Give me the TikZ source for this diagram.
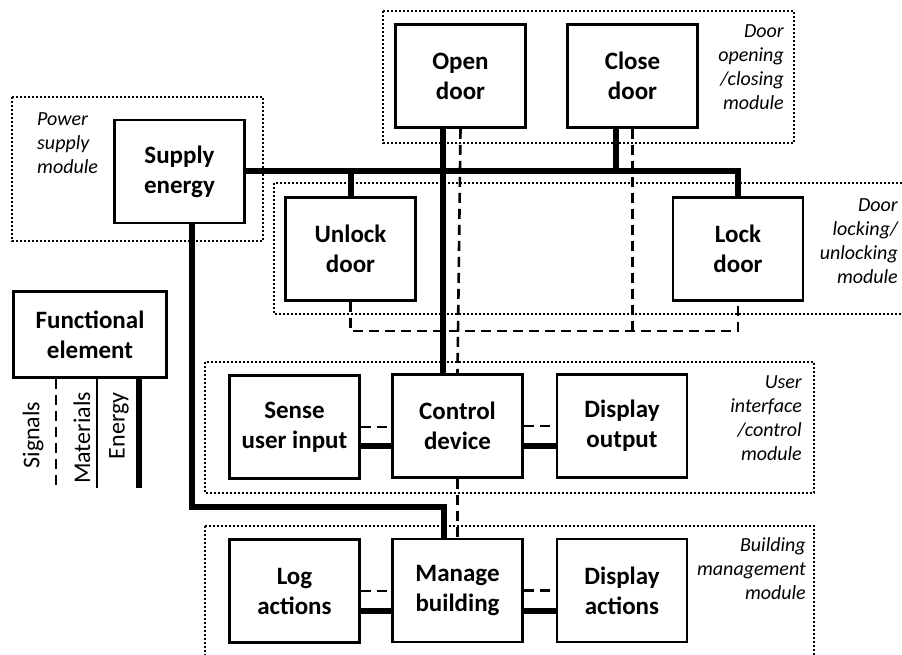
\documentclass[tikz,border=0pt]{standalone}
\usepackage{fontspec}
\setmainfont{Carlito}
\begin{document}
\begin{tikzpicture}[x=1pt, y=-1pt,
  block/.style={draw, line width=2.8pt, minimum width=130pt, minimum height=103pt,
    inner sep=0pt, align=center, font=\bfseries\fontsize{25}{30}\selectfont},
  energy/.style={line width=6pt},
  signal/.style={line width=2.6pt, dash pattern=on 10pt off 6pt},
  material/.style={line width=2.8pt},
  module/.style={line width=2.2pt, dash pattern=on 2pt off 2pt},
  modlabel/.style={inner sep=0pt, font=\itshape\fontsize{20}{24}\selectfont},
  leglabel/.style={inner sep=0pt, rotate=90, font=\fontsize{24}{28}\selectfont}]
  \useasboundingbox (0,0) rectangle (902,655);
  % module frames
  \draw[module] (383,11) rectangle (794,143);
  \draw[module] (12,97) rectangle (263,241);
  \draw[module] (274,183) rectangle (915,314);
  \draw[module] (205,362) rectangle (814,493);
  \draw[module] (205,526) rectangle (814,670);
  \node[modlabel, anchor=north west, align=left] (powermod) at (37,112) {Power\\supply\\module};
  \node[modlabel, anchor=north east, align=right] (openmod) at (784,24) {Door\\opening\\/closing\\module};
  \node[modlabel, anchor=north east, align=right] (lockmod) at (898,198) {Door\\locking/\\unlocking\\module};
  \node[modlabel, anchor=north east, align=right] (uimod) at (802,375) {User\\interface\\/control\\module};
  \node[modlabel, anchor=north east, align=right] (bldmod) at (806,537) {Building\\management\\module};
  % functions
  \node[block] (open) at (460.5,76) {Open\\door};
  \node[block] (close) at (632.5,76) {Close\\door};
  \node[block] (supply) at (179.5,171.5) {Supply\\energy};
  \node[block] (unlock) at (350.5,249) {Unlock\\door};
  \node[block] (lock) at (738,249) {Lock\\door};
  \node[block] (sense) at (294.5,427) {Sense\\user input};
  \node[block] (control) at (457.5,426) {Control\\device};
  \node[block] (dispout) at (622,426) {Display\\output};
  \node[block] (log) at (294.5,591) {Log\\actions};
  \node[block] (manage) at (457.5,590.5) {Manage\\building};
  \node[block] (dispact) at (622,590.5) {Display\\actions};
  % energy
  \draw[energy] (supply.east) -- (supply.east -| lock.north) -- (lock.north);
  \draw[energy] (unlock.north) -- (unlock.north |- supply.east);
  \draw[energy] ([xshift=-17pt]close.south) -- ([xshift=-17pt]close.south |- supply.east);
  \draw[energy] ([xshift=-18pt]open.south) -- ([xshift=-18pt]open.south |- control.north);
  \draw[energy] ([xshift=12pt]supply.south) -- ++(0,283) -| ([xshift=-14pt]manage.north);
  \draw[energy] ([yshift=-19pt]sense.east) -- ([yshift=-19pt]sense.east -| control.west);
  \draw[energy] ([yshift=-20pt]control.east) -- ([yshift=-20pt]control.east -| dispout.west);
  \draw[energy] ([yshift=-20pt]log.east) -- ([yshift=-20pt]log.east -| manage.west);
  \draw[energy] ([yshift=-20pt]manage.east) -- ([yshift=-20pt]manage.east -| dispact.west);
  % signals
  \coordinate (sigbus) at (0,331);
  \draw[signal] (unlock.south) -- (unlock.south |- sigbus) -| (lock.south);
  \draw[signal] (close.south) -- (close.south |- sigbus);
  \draw[signal] (open.south) -- (control.north);
  \draw[signal] (control.south) -- (manage.north);
  \draw[signal] (sense.east) -- (sense.east -| control.west);
  \draw[signal] (control.east) -- (control.east -| dispout.west);
  \draw[signal] (log.east) -- (log.east -| manage.west);
  \draw[signal] (manage.east) -- (manage.east -| dispact.west);
  % legend
  \node[block, minimum width=153pt, minimum height=86pt] (legend) at (90,334.5) {Functional\\element};
  \draw[signal] ([xshift=-34pt]legend.south) -- ++(0,106);
  \draw[material] ([xshift=7pt]legend.south) -- ++(0,109);
  \draw[energy] ([xshift=49pt]legend.south) -- ++(0,109);
  \node[leglabel] (lsig) at (33,435) {Signals};
  \node[leglabel] (lmat) at (82,438) {Materials};
  \node[leglabel] (leng) at (119,426) {Energy};
\end{tikzpicture}
\end{document}
